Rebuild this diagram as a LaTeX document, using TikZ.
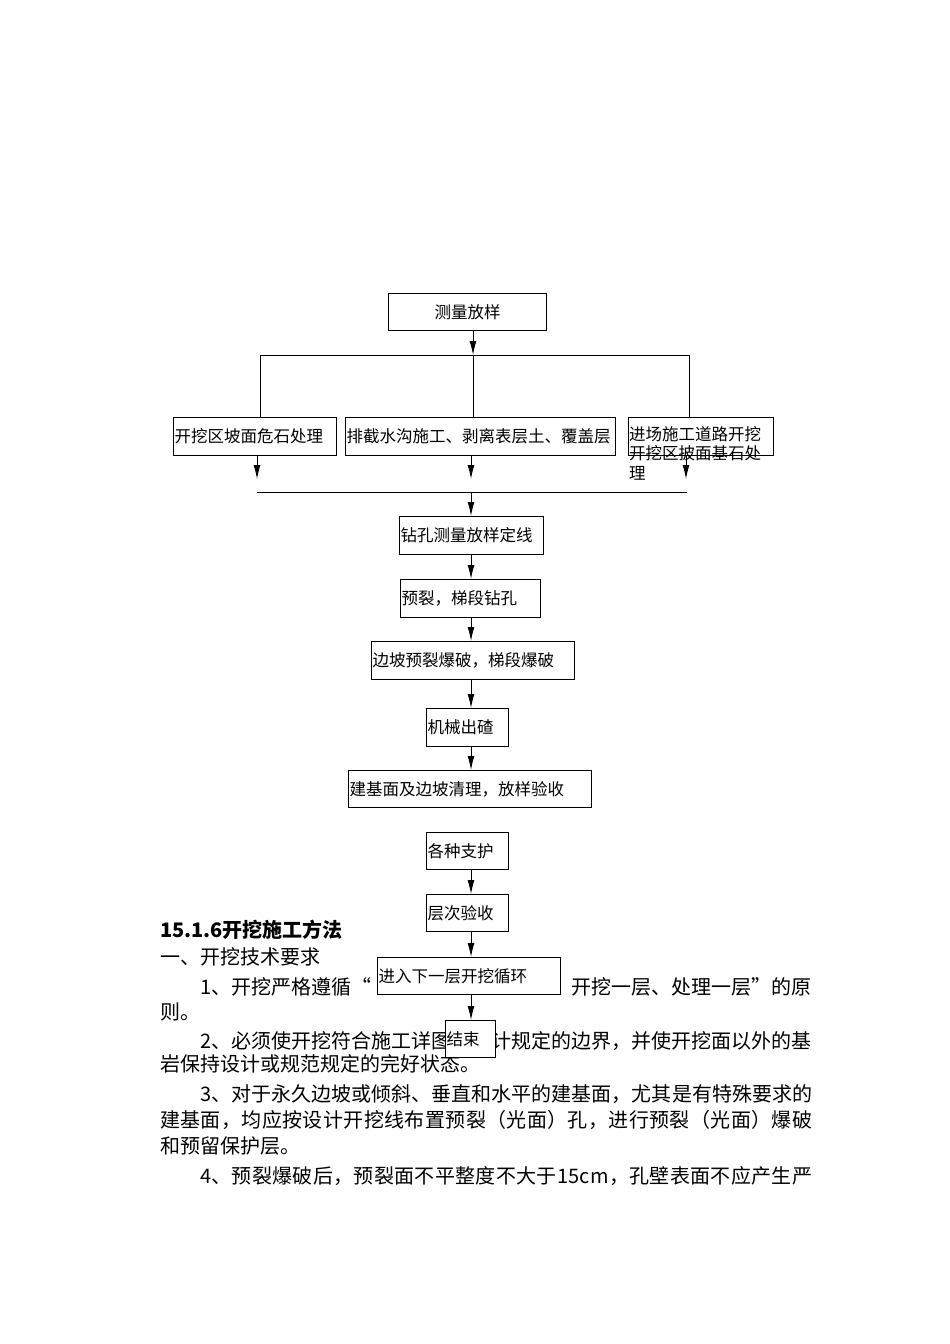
\documentclass[tikz,border=0pt]{standalone}
\usepackage{fontspec}
\setmainfont{Noto Sans CJK SC}
\usetikzlibrary{arrows.meta}
\def\sprdfirst#1{#1\sprdaux}
\def\sprdaux#1{\ifx#1\relax\else\hfil#1\expandafter\sprdaux\fi}
\newcommand\spreadln[2]{\hbox to #1{\sprdfirst#2\relax}}
\tikzset{
  bx/.style={draw, fill=white, line width=1pt, inner xsep=1pt, inner ysep=0pt,
    anchor=north west, align=left, font=\fontsize{16.5}{19.5}\selectfont},
  ptxt/.style={inner sep=0pt, anchor=base west, font=\fontsize{20}{24}\selectfont},
  ln/.style={line width=1pt},
  arr/.style={line width=1pt, -{Latex[length=14pt,width=7pt]}}
}
\begin{document}
\begin{tikzpicture}[x=1pt,y=-1pt]
\useasboundingbox (0,0) rectangle (950,1344);
\fill[white] (0,0) rectangle (950,1344);
% paragraph text (behind the boxes)
\node[ptxt, font=\bfseries\fontsize{20}{24}\selectfont] (h1) at (160,937) {15.1.6开挖施工方法};
\node[ptxt] (h2) at (160,964) {一、开挖技术要求};
\node[ptxt] (p1a) at (200,994) {1、开挖严格遵循“};
\node[ptxt, anchor=base east] (p1b) at (812,994) {开挖一层、处理一层”的原};
\node[ptxt] (p1c) at (160,1019) {则。};
\node[ptxt] (p2a) at (200,1048) {2、必须使开挖符合施工详图};
\node[ptxt, anchor=base east] (p2b) at (812,1048) {计规定的边界，并使开挖面以外的基};
\node[ptxt] (p2c) at (160,1071) {岩保持设计或规范规定的完好状态。};
\node[ptxt] (p3a) at (200,1101) {\spreadln{612pt}{3、对于永久边坡或倾斜、垂直和水平的建基面，尤其是有特殊要求的}};
\node[ptxt] (p3b) at (160,1127) {\spreadln{652pt}{建基面，均应按设计开挖线布置预裂（光面）孔，进行预裂（光面）爆破}};
\node[ptxt] (p3c) at (160,1153) {和预留保护层。};
\node[ptxt] (p4a) at (200,1183) {\spreadln{612pt}{4、预裂爆破后，预裂面不平整度不大于15cm，孔壁表面不应产生严}};
% boxes
\node[bx, minimum width=158pt, minimum height=37pt, align=center] (A) at (388,293) {测量放样};
\node[bx, text width=161pt, minimum height=38pt] (B1) at (173,417) {开挖区坡面危石处理};
\node[bx, text width=268pt, minimum height=38pt] (B2) at (345,417) {排截水沟施工、剥离表层土、覆盖层};
\node[bx, minimum width=145pt, minimum height=38pt] (B3) at (628,417) {};
\node[anchor=north west, inner sep=0pt, align=left, font=\fontsize{16.5}{19.5}\selectfont] (B3t) at (629,426) {进场施工道路开挖\\开挖区披面基石处\\理};
\node[bx, text width=142pt, minimum height=38pt] (C1) at (399,516) {钻孔测量放样定线};
\node[bx, text width=138pt, minimum height=38pt] (C2) at (400,579) {预裂，梯段钻孔};
\node[bx, text width=201pt, minimum height=38pt] (C3) at (371,641) {边坡预裂爆破，梯段爆破};
\node[bx, text width=80pt, minimum height=38pt] (C4) at (426,708) {机械出碴};
\node[bx, text width=241pt, minimum height=37pt] (C5) at (348,770) {建基面及边坡清理，放样验收};
\node[bx, text width=80pt, minimum height=37pt] (C6) at (426,832) {各种支护};
\node[bx, text width=80pt, minimum height=37pt] (C7) at (426,894) {层次验收};
\node[bx, text width=181pt, minimum height=37pt] (C8) at (377,957) {进入下一层开挖循环};
\node[bx, text width=48pt, minimum height=37pt] (C9) at (445,1020) {结束};
% coordinates
\coordinate (jL) at (260,355);
\coordinate (jM) at (473,355);
\coordinate (jR) at (689,355);
\coordinate (t1) at (257,479);
\coordinate (t2) at (471,479);
\coordinate (t3) at (686,479);
\coordinate (mL) at (257,492);
\coordinate (mM) at (471,492);
\coordinate (mR) at (687,492);
\coordinate (ax) at (471,0);
% connectors
\draw[arr] (A.south -| jM) -- (jM);
\draw[ln] (jL) -- (jR);
\draw[ln] (jL) -- (B1.north -| jL);
\draw[ln] (jM) -- (B2.north -| jM);
\draw[ln] (jR) -- (B3.north -| jR);
\draw[arr] (B1.south -| t1) -- (t1);
\draw[arr] (B2.south -| t2) -- (t2);
\draw[arr] (B3.south -| t3) -- (t3);
\draw[ln] (mL) -- (mR);
\draw[arr] (mM) -- (C1.north -| mM);
\draw[arr] (C1.south -| ax) -- (C2.north -| ax);
\draw[arr] (C2.south -| ax) -- (C3.north -| ax);
\draw[arr] (C3.south -| ax) -- (C4.north -| ax);
\draw[arr] (C4.south -| ax) -- (C5.north -| ax);
\draw[arr] (C6.south -| ax) -- (C7.north -| ax);
\draw[arr] (C7.south -| ax) -- (C8.north -| ax);
\draw[arr] (C8.south -| ax) -- (C9.north -| ax);
\end{tikzpicture}
\end{document}
